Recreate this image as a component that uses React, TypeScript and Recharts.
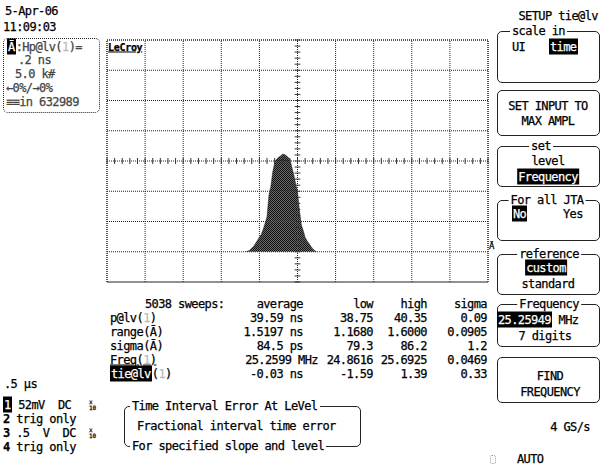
import React from "react";
import { ComposedChart, Area, XAxis, YAxis, ReferenceLine, ReferenceArea } from "recharts";

// histogram of tie@lv, bin centre in ns, count in k# (5.0 k# per division)
const HIST_NS = [
    -0.27, -0.26, -0.25, -0.24, -0.23, -0.22, -0.21, -0.2, -0.19, -0.18, -0.17, -0.16, -0.15,
    -0.14, -0.13, -0.12, -0.11, -0.1, -0.09, -0.08, -0.07, -0.06, -0.05, -0.04, -0.03, -0.02,
    -0.01, 0.0, 0.01, 0.02, 0.03, 0.04, 0.05, 0.06, 0.07, 0.08, 0.09, 0.1,
];
const HIST_K = [
    0, 0.1, 0.3, 0.6, 0.9, 1.4, 1.9, 2.4, 2.9, 3.7, 4.7, 5.8, 9.4,
    10.8, 13.2, 14.7, 15.3, 15.6, 15.8, 16.1, 16.1, 15.9, 15.6, 15.3, 14.0, 12.8,
    11.3, 9.9, 6.9, 4.5, 3.5, 2.4, 1.8, 1.4, 0.9, 0.5, 0.2, 0,
];

// graticule: .2 ns per division horizontally, 5.0 k# per division vertically
const X_DIVS = [-1, -0.8, -0.6, -0.4, -0.2, 0, 0.2, 0.4, 0.6, 0.8, 1];
const Y_DIVS = [-5, 0, 5, 10, 15, 20, 25, 30, 35];
const X_MINOR = Array.from({ length: 51 }, (_, i) => -1 + i * 0.04);
const Y_MINOR = Array.from({ length: 41 }, (_, i) => -5 + i);

// measurement table
const ROW_LABELS = ["p@lv", "range", "sigma", "Freq", "tie@lv"];
const AVERAGE = ["39.59 ns", "1.5197 ns", "84.5 ps", "25.2599 MHz", "-0.03 ns"];
const LOW = ["38.75", "1.1680", "79.3", "24.8616", "-1.59"];
const HIGH = ["40.35", "1.6000", "86.2", "25.6925", "1.39"];
const SIGMA = ["0.09", "0.0905", "1.2", "0.0469", "0.33"];

const hist = HIST_NS.map((ns, i) => ({ ns, k: HIST_K[i] }));

const FONT = '"DejaVu Sans Mono", monospace';

type TProps = {
    x: number;
    y: number;
    children: React.ReactNode;
    align?: "left" | "right" | "center";
    size?: number;
    color?: string;
    style?: React.CSSProperties;
};

function T({ x, y, children, align = "left", size = 12, color = "#000", style }: TProps) {
    const tx =
        align === "right" ? "translate(-100%,-50%)" : align === "center" ? "translate(-50%,-50%)" : "translateY(-50%)";
    return (
        <div
            style={{
                position: "absolute",
                left: x,
                top: y,
                transform: tx,
                fontSize: size,
                lineHeight: `${size + 1}px`,
                whiteSpace: "pre",
                color,
                letterSpacing: -0.6,
                WebkitTextStroke: "0.25px currentColor",
                ...style,
            }}
        >
            {children}
        </div>
    );
}

function Inv({ children }: { children: React.ReactNode }) {
    return <span style={{ background: "#000", color: "#fff", padding: "1px 1px" }}>{children}</span>;
}

function Ghost({ children }: { children: React.ReactNode }) {
    return <span style={{ color: "#bbb" }}>{children}</span>;
}

function Box({ x, y, w, h, dotted }: { x: number; y: number; w: number; h: number; dotted?: boolean }) {
    return (
        <div
            style={{
                position: "absolute",
                left: x,
                top: y,
                width: w,
                height: h,
                boxSizing: "border-box",
                border: `1px ${dotted ? "dotted" : "solid"} #222`,
                borderRadius: 5,
            }}
        />
    );
}

const white = { background: "#fff", padding: "0 2px" };

export default function App() {
    return (
        <div
            style={{
                position: "absolute",
                left: 0,
                top: 0,
                width: 601,
                height: 466,
                background: "#fff",
                fontFamily: FONT,
                overflow: "hidden",
            }}
        >
            <div style={{ position: "absolute", left: 0, top: 0 }}>
                <ComposedChart width={601} height={466} data={hist} margin={{ top: 40, right: 113, bottom: 184, left: 107 }}>
                    <defs>
                        <pattern id="dither" width="2" height="2" patternUnits="userSpaceOnUse">
                            <rect width="2" height="2" fill="#6a6a6a" />
                            <rect width="1" height="1" fill="#111" />
                            <rect x="1" y="1" width="1" height="1" fill="#111" />
                        </pattern>
                    </defs>
                    <XAxis dataKey="ns" type="number" domain={[-1, 1]} hide allowDataOverflow />
                    <YAxis type="number" domain={[-5, 35]} hide allowDataOverflow />
                    {X_DIVS.map((v) => (
                        <ReferenceLine key={`gx${v}`} x={v} stroke="#222" strokeDasharray="1 1" />
                    ))}
                    {Y_DIVS.map((v) => (
                        <ReferenceLine key={`gy${v}`} y={v} stroke="#222" strokeDasharray="1 1" />
                    ))}
                    <Area
                        dataKey="k"
                        type="linear"
                        baseValue={0}
                        stroke="#222"
                        strokeWidth={0.5}
                        fill="url(#dither)"
                        fillOpacity={1}
                        dot={false}
                        activeDot={false}
                        isAnimationActive={false}
                    />
                    {X_MINOR.map((v) => (
                        <ReferenceLine
                            key={`mx${v}`}
                            segment={[
                                { x: v, y: 14.5 },
                                { x: v, y: 15.5 },
                            ]}
                            stroke="#333"
                        />
                    ))}
                    {Y_MINOR.map((v) => (
                        <ReferenceLine
                            key={`my${v}`}
                            segment={[
                                { x: -0.015, y: v },
                                { x: 0.015, y: v },
                            ]}
                            stroke="#333"
                        />
                    ))}
                    <ReferenceArea x1={-1} x2={1} y1={-5} y2={35} fill="none" stroke="#222" strokeDasharray="1 1" />
                </ComposedChart>
            </div>

            {/* scope label inside graticule */}
            <T x={108} y={47} size={10} style={{ textDecoration: "underline", fontWeight: "bold", letterSpacing: -0.3 }}>
                LeCroy
            </T>
            <T x={489} y={246} size={9}>
                Ā
            </T>

            {/* date / time */}
            <T x={5} y={11}>5-Apr-06</T>
            <T x={3} y={27}>11:09:03</T>

            {/* trace A descriptor */}
            <Box x={3} y={38} w={97} h={75} dotted />
            <T x={7} y={47} color="#444">
                <Inv>Ā</Inv>:Hp@lv(<Ghost>1</Ghost>)=
            </T>
            <T x={18} y={60} color="#444">.2 ns</T>
            <T x={15} y={74} color="#444">5.0 k#</T>
            <T x={6} y={88} color="#444">←0%/→0%</T>
            <T x={6} y={102} color="#444">≡≡in 632989</T>

            {/* measurement table */}
            <T x={145} y={304}>5038 sweeps:</T>
            <T x={303} y={304} align="right">average</T>
            <T x={373} y={304} align="right">low</T>
            <T x={427} y={304} align="right">high</T>
            <T x={487} y={304} align="right">sigma</T>
            {ROW_LABELS.map((lab, i) => {
                const y = 318 + i * 14;
                const arg = i === 1 || i === 2 ? "Ā" : <Ghost>1</Ghost>;
                return (
                    <React.Fragment key={lab}>
                        <T x={110} y={y}>
                            {i === 4 ? (
                                <>
                                    <Inv>{lab}</Inv>(<Ghost>1</Ghost>)
                                </>
                            ) : i === 3 ? (
                                <span style={{ textDecoration: "underline" }}>
                                    {lab}(<Ghost>1</Ghost>)
                                </span>
                            ) : (
                                <>
                                    {lab}({arg})
                                </>
                            )}
                        </T>
                        <T x={i === 3 ? 318 : 303} y={y} align="right">{AVERAGE[i]}</T>
                        <T x={373} y={y} align="right">{LOW[i]}</T>
                        <T x={427} y={y} align="right">{HIGH[i]}</T>
                        <T x={487} y={y} align="right">{SIGMA[i]}</T>
                    </React.Fragment>
                );
            })}

            {/* timebase and channels */}
            <T x={4} y={384}>.5 μs</T>
            <T x={3} y={405}>
                <Inv>1</Inv> 52mV  DC
            </T>
            <T x={89} y={405} size={6} style={{ lineHeight: "6px", letterSpacing: 0 }}>
                x{"\n"}10
            </T>
            <T x={3} y={419}>
                <b>2</b> trig only
            </T>
            <T x={3} y={433}>
                <b>3</b> .5  V  DC
            </T>
            <T x={89} y={433} size={6} style={{ lineHeight: "6px", letterSpacing: 0 }}>
                x{"\n"}10
            </T>
            <T x={3} y={447}>
                <b>4</b> trig only
            </T>

            {/* function description */}
            <Box x={124} y={406} w={237} h={41} />
            <T x={130} y={406} style={white}>Time Interval Error At LeVel</T>
            <T x={137} y={426}>Fractional interval time error</T>
            <T x={130} y={446} style={white}>For specified slope and level</T>

            {/* right-hand menu */}
            <T x={598} y={16} align="right">SETUP tie@lv</T>

            <Box x={497} y={31} w={103} h={52} />
            <T x={510} y={31} style={white}>scale in</T>
            <T x={512} y={47}>UI</T>
            <T x={549} y={47}>
                <Inv>time</Inv>
            </T>

            <Box x={497} y={90} w={103} h={46} />
            <T x={548} y={106} align="center">SET INPUT TO</T>
            <T x={548} y={121} align="center">MAX AMPL</T>

            <Box x={497} y={146} w={103} h={41} />
            <T x={541} y={146} align="center" style={white}>set</T>
            <T x={548} y={161} align="center">level</T>
            <T x={548} y={177} align="center">
                <Inv>Frequency</Inv>
            </T>

            <Box x={497} y={200} w={103} h={41} />
            <T x={547} y={200} align="center" style={white}>For all JTA</T>
            <T x={512} y={214}>
                <Inv>No</Inv>
            </T>
            <T x={563} y={214}>Yes</T>

            <Box x={497} y={254} w={103} h={41} />
            <T x={549} y={254} align="center" style={white}>reference</T>
            <T x={546} y={268} align="center">
                <Inv>custom</Inv>
            </T>
            <T x={548} y={284} align="center">standard</T>

            <Box x={497} y={304} w={103} h={43} />
            <T x={549} y={304} align="center" style={white}>Frequency</T>
            <T x={497} y={320}>
                <Inv>25.25949</Inv> MHz
            </T>
            <T x={545} y={336} align="center">7 digits</T>

            <Box x={497} y={357} w={103} h={46} />
            <T x={550} y={376} align="center">FIND</T>
            <T x={550} y={392} align="center">FREQUENCY</T>

            <T x={590} y={427} align="right">4 GS/s</T>
            <div
                style={{
                    position: "absolute",
                    left: 490,
                    top: 455,
                    width: 4,
                    height: 7,
                    border: "1px dotted #999",
                    borderRadius: 2,
                }}
            />
            <T x={517} y={459}>AUTO</T>
        </div>
    );
}
